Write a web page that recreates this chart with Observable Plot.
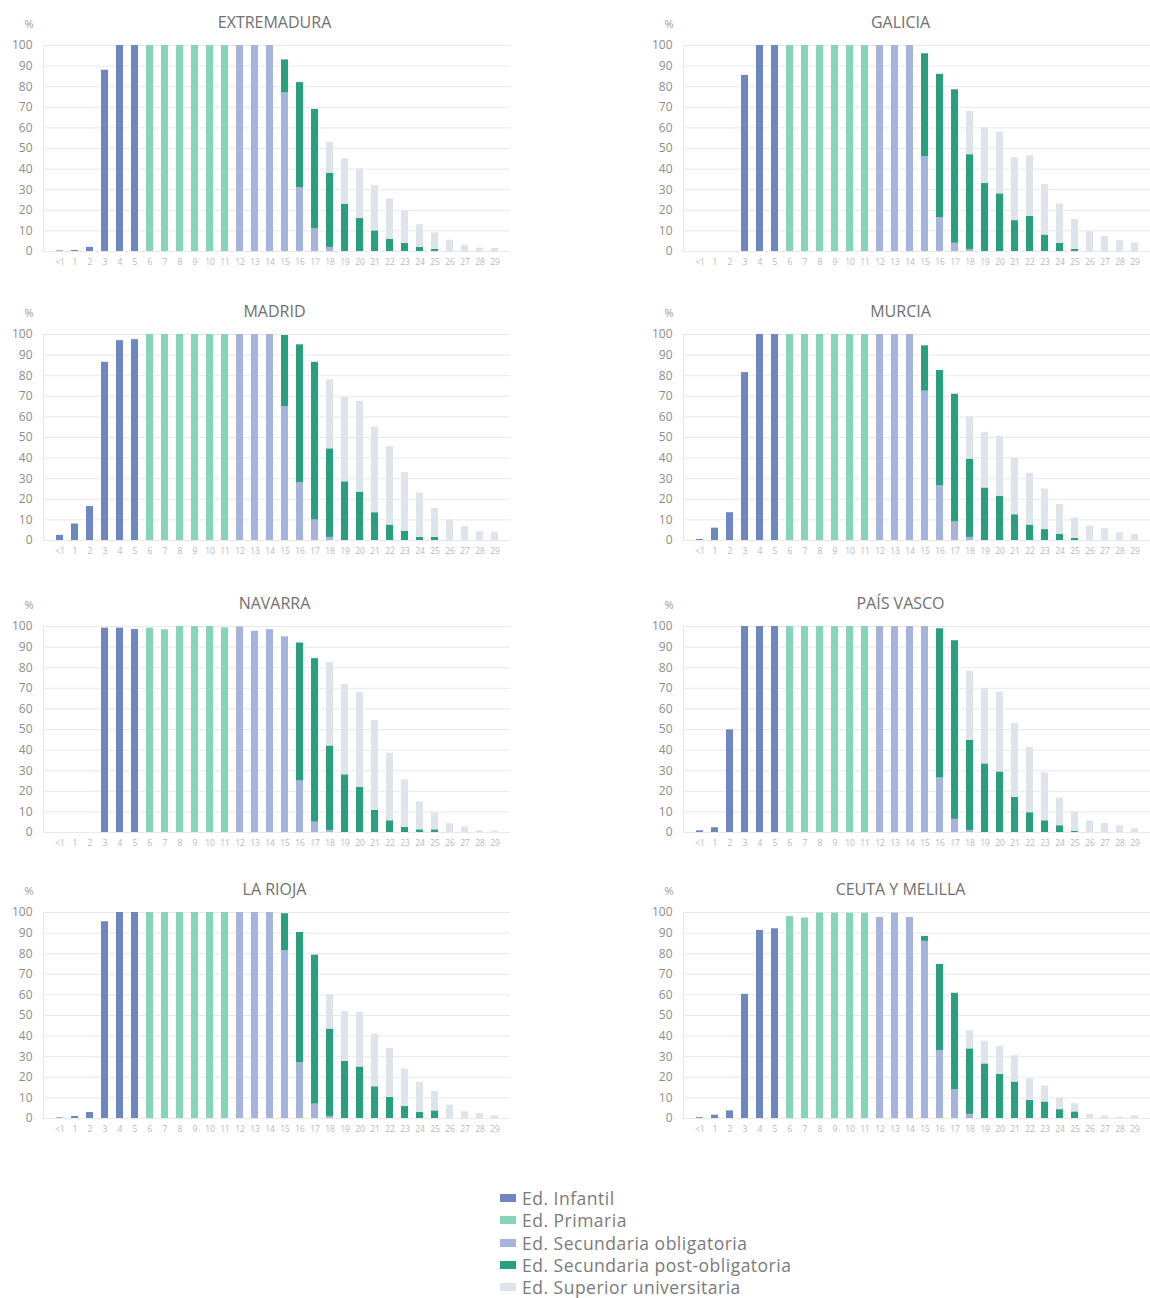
<!DOCTYPE html>
<html><head><meta charset="utf-8">
<script src="https://cdn.jsdelivr.net/npm/d3@7"></script>
<script src="https://cdn.jsdelivr.net/npm/@observablehq/plot@0.6"></script>
<style>
body{margin:0;background:#fff;font-family:"Open Sans",sans-serif;}
#chart{position:relative;width:1150px;height:1298px;overflow:hidden;background:#fff;}
.panel{position:absolute;}
#legend{position:absolute;left:500px;top:1187px;font-size:17.5px;letter-spacing:0.5px;color:#7a7a7a;font-family:"Open Sans",sans-serif;}
.item{height:22.3px;display:flex;align-items:center;white-space:nowrap;}
.sw{width:16px;height:8px;margin-right:6px;flex:none;}
</style></head><body><div id="chart"></div>
<script>
const ages = ["<1","1","2","3","4","5","6","7","8","9","10","11","12","13","14","15","16","17","18","19","20","21","22","23","24","25","26","27","28","29"];
const levels = ["Ed. Infantil","Ed. Primaria","Ed. Secundaria obligatoria","Ed. Secundaria post-obligatoria","Ed. Superior universitaria"];
const levelColors = ["#6f87c1","#86d4b9","#a6b4dc","#2a9f80","#dde4ec"];
const regionNames = ["EXTREMADURA","GALICIA","MADRID","MURCIA","NAVARRA","PAÍS VASCO","LA RIOJA","CEUTA Y MELILLA"];
const yTicks = [0,10,20,30,40,50,60,70,80,90,100];

// values per age (<1 .. 29), % of population enrolled in each level
const ext_inf  = [0.3,0.5,2,88,100,100,0,0,0,0, 0,0,0,0,0,0,0,0,0,0, 0,0,0,0,0,0,0,0,0,0];
const ext_pri  = [0,0,0,0,0,0,100,100,100,100, 100,100,0,0,0,0,0,0,0,0, 0,0,0,0,0,0,0,0,0,0];
const ext_sec  = [0,0,0,0,0,0,0,0,0,0, 0,0,100,100,100,77,31,11,2,0, 0,0,0,0,0,0,0,0,0,0];
const ext_post = [0,0,0,0,0,0,0,0,0,0, 0,0,0,0,0,16,51,58,36,23, 16,10,6,4,2,1,0,0,0,0];
const ext_sup  = [0,0,0,0,0,0,0,0,0,0, 0,0,0,0,0,0,0,0,15,22, 24,22,19.5,15.5,11,8,5.5,3,1.6,1.5];

const gal_inf  = [0,0,0,85.5,100,100,0,0,0,0, 0,0,0,0,0,0,0,0,0,0, 0,0,0,0,0,0,0,0,0,0];
const gal_pri  = [0,0,0,0,0,0,100,100,100,100, 100,100,0,0,0,0,0,0,0,0, 0,0,0,0,0,0,0,0,0,0];
const gal_sec  = [0,0,0,0,0,0,0,0,0,0, 0,0,100,100,100,46,16.5,4,1,0, 0,0,0,0,0,0,0,0,0,0];
const gal_post = [0,0,0,0,0,0,0,0,0,0, 0,0,0,0,0,50,69.5,74.5,46,33, 28,15,17,8,4,1,0,0,0,0];
const gal_sup  = [0,0,0,0,0,0,0,0,0,0, 0,0,0,0,0,0,0,0,21,27, 30,30.5,29.5,24.5,19,14.5,9.5,7.3,5.2,4];

const mad_inf  = [2.5,8,16.5,86.5,97,97.5,0,0,0,0, 0,0,0,0,0,0,0,0,0,0, 0,0,0,0,0,0,0,0,0,0];
const mad_pri  = [0,0,0,0,0,0,100,100,100,100, 100,100,0,0,0,0,0,0,0,0, 0,0,0,0,0,0,0,0,0,0];
const mad_sec  = [0,0,0,0,0,0,0,0,0,0, 0,0,100,100,100,65,28,10,1.5,0, 0,0,0,0,0,0,0,0,0,0];
const mad_post = [0,0,0,0,0,0,0,0,0,0, 0,0,0,0,0,34.5,67,76.5,43,28.5, 23.5,13.5,7.5,4.5,1.5,1.5,0,0,0,0];
const mad_sup  = [0,0,0,0,0,0,0,0,0,0, 0,0,0,0,0,0,0,0,33.5,41, 44,41.5,38,28.5,21.5,14,10,6.7,4.2,4];

const mur_inf  = [0.5,6,13.5,81.5,100,100,0,0,0,0, 0,0,0,0,0,0,0,0,0,0, 0,0,0,0,0,0,0,0,0,0];
const mur_pri  = [0,0,0,0,0,0,100,100,100,100, 100,100,0,0,0,0,0,0,0,0, 0,0,0,0,0,0,0,0,0,0];
const mur_sec  = [0,0,0,0,0,0,0,0,0,0, 0,0,100,100,100,72.5,26.5,9,1.5,0, 0,0,0,0,0,0,0,0,0,0];
const mur_post = [0,0,0,0,0,0,0,0,0,0, 0,0,0,0,0,22,56,62,38,25.5, 21.5,12.5,7.5,5.3,3,1,0,0,0,0];
const mur_sup  = [0,0,0,0,0,0,0,0,0,0, 0,0,0,0,0,0,0,0,20.5,27, 29,27.5,25,19.7,14.5,10,7,5.7,3.7,2.9];

const nav_inf  = [0,0,0,99.2,99.2,98.5,0,0,0,0, 0,0,0,0,0,0,0,0,0,0, 0,0,0,0,0,0,0,0,0,0];
const nav_pri  = [0,0,0,0,0,0,99.2,98.4,100,100, 100,99.3,0,0,0,0,0,0,0,0, 0,0,0,0,0,0,0,0,0,0];
const nav_sec  = [0,0,0,0,0,0,0,0,0,0, 0,0,99.8,97.7,98.5,95,25,5,1,0, 0,0,0,0,0,0,0,0,0,0];
const nav_post = [0,0,0,0,0,0,0,0,0,0, 0,0,0,0,0,0,67,79.4,41,28, 22,10.7,5.7,2.5,1.3,1.3,0,0,0,0];
const nav_sup  = [0,0,0,0,0,0,0,0,0,0, 0,0,0,0,0,0,0,0,40.5,43.8, 46,43.6,32.8,23,13.5,8.2,4.3,2.6,0.8,0.7];

const pv_inf   = [0.8,2.3,49.8,100,100,100,0,0,0,0, 0,0,0,0,0,0,0,0,0,0, 0,0,0,0,0,0,0,0,0,0];
const pv_pri   = [0,0,0,0,0,0,100,100,100,100, 100,100,0,0,0,0,0,0,0,0, 0,0,0,0,0,0,0,0,0,0];
const pv_sec   = [0,0,0,0,0,0,0,0,0,0, 0,0,100,100,100,100,26.5,6.4,1,0, 0,0,0,0,0,0,0,0,0,0];
const pv_post  = [0,0,0,0,0,0,0,0,0,0, 0,0,0,0,0,0,72.4,86.7,43.8,33.3, 29.4,17,9.6,5.7,3.3,0.5,0,0,0,0];
const pv_sup   = [0,0,0,0,0,0,0,0,0,0, 0,0,0,0,0,0,0,0,33.5,36.5, 38.7,35.9,31.6,23.2,13.4,9.3,5.6,4.4,3.3,1.8];

const rio_inf  = [0.3,1,2.9,95.5,100,100,0,0,0,0, 0,0,0,0,0,0,0,0,0,0, 0,0,0,0,0,0,0,0,0,0];
const rio_pri  = [0,0,0,0,0,0,100,100,100,100, 100,100,0,0,0,0,0,0,0,0, 0,0,0,0,0,0,0,0,0,0];
const rio_sec  = [0,0,0,0,0,0,0,0,0,0, 0,0,100,100,100,81.4,27,7,1,0, 0,0,0,0,0,0,0,0,0,0];
const rio_post = [0,0,0,0,0,0,0,0,0,0, 0,0,0,0,0,18,63.3,72.3,42.4,27.7, 25,15.4,10.2,5.8,2.9,3.7,0,0,0,0];
const rio_sup  = [0,0,0,0,0,0,0,0,0,0, 0,0,0,0,0,0,0,0,16.6,24.3, 26.5,25.6,23.9,18.2,14.6,9.4,6.5,3.2,2.4,1.3];

const ceu_inf  = [0.4,1.6,3.7,60.3,91.3,92.1,0,0,0,0, 0,0,0,0,0,0,0,0,0,0, 0,0,0,0,0,0,0,0,0,0];
const ceu_pri  = [0,0,0,0,0,0,98,97.3,99.7,99.7, 99.7,99.7,0,0,0,0,0,0,0,0, 0,0,0,0,0,0,0,0,0,0];
const ceu_sec  = [0,0,0,0,0,0,0,0,0,0, 0,0,97.6,99.7,97.6,86,33,14,2,0, 0,0,0,0,0,0,0,0,0,0];
const ceu_post = [0,0,0,0,0,0,0,0,0,0, 0,0,0,0,0,2.4,41.8,46.8,31.8,26.5, 21.4,17.7,8.8,8,4.3,3.2,0,0,0,0];
const ceu_sup  = [0,0,0,0,0,0,0,0,0,0, 0,0,0,0,0,0,0,0,8.8,11, 13.6,12.8,10.5,7.8,5.7,4,1.9,1.3,0.6,1.3];

const regionSeries = [
  [ext_inf, ext_pri, ext_sec, ext_post, ext_sup],
  [gal_inf, gal_pri, gal_sec, gal_post, gal_sup],
  [mad_inf, mad_pri, mad_sec, mad_post, mad_sup],
  [mur_inf, mur_pri, mur_sec, mur_post, mur_sup],
  [nav_inf, nav_pri, nav_sec, nav_post, nav_sup],
  [pv_inf, pv_pri, pv_sec, pv_post, pv_sup],
  [rio_inf, rio_pri, rio_sec, rio_post, rio_sup],
  [ceu_inf, ceu_pri, ceu_sec, ceu_post, ceu_sup]
];

const chart = document.getElementById("chart");
const rowTops = [0, 289, 581, 867];

regionNames.forEach((name, k) => {
  const col = k % 2, row = Math.floor(k / 2);
  const rows = [];
  regionSeries[k].forEach((arr, li) => {
    arr.forEach((v, i) => { if (v > 0) rows.push({age: ages[i], level: levels[li], value: v}); });
  });
  const width = col ? 510 : 520;
  const plot = Plot.plot({
    width,
    height: 275,
    marginTop: 45,
    marginBottom: 24,
    marginLeft: 43,
    marginRight: col ? 0 : 10,
    style: {fontFamily: "'Open Sans', sans-serif", background: "transparent", overflow: "visible"},
    x: {domain: ages, paddingInner: 0.55, paddingOuter: 0.22, label: null},
    y: {domain: [0, 100], label: null},
    color: {domain: levels, range: levelColors},
    marks: [
      Plot.gridY(yTicks, {stroke: "#e9e9e9", strokeOpacity: 1}),
      Plot.frame({anchor: "left", stroke: "#e6e6e6"}),
      Plot.axisY({ticks: yTicks, tickSize: 0, tickPadding: 11, fontSize: 12, fill: "#8d8d8d", label: null}),
      Plot.axisX({tickSize: 0, tickPadding: 7, fontSize: 8.5, fill: "#b9b9b9", label: null}),
      Plot.barY(rows, {x: "age", y: "value", fill: "level", order: levels}),
      Plot.text([name], {frameAnchor: "top", text: d => d, dx: col ? -16.5 : -2.5, dy: -23, fontSize: 16, fill: "#707070", lineAnchor: "middle"}),
      Plot.text(["%"], {frameAnchor: "top-left", text: d => d, dx: -19, dy: -21, fontSize: 11, fill: "#9a9a9a", lineAnchor: "middle"})
    ]
  });
  const div = document.createElement("div");
  div.className = "panel";
  div.style.left = (col ? 640 : 0) + "px";
  div.style.top = rowTops[row] + "px";
  div.appendChild(plot);
  chart.appendChild(div);
});

const legend = document.createElement("div");
legend.id = "legend";
levels.forEach((l, i) => {
  const it = document.createElement("div");
  it.className = "item";
  const sw = document.createElement("span");
  sw.className = "sw";
  sw.style.background = levelColors[i];
  it.appendChild(sw);
  it.appendChild(document.createTextNode(l));
  legend.appendChild(it);
});
chart.appendChild(legend);
</script>
</body></html>
